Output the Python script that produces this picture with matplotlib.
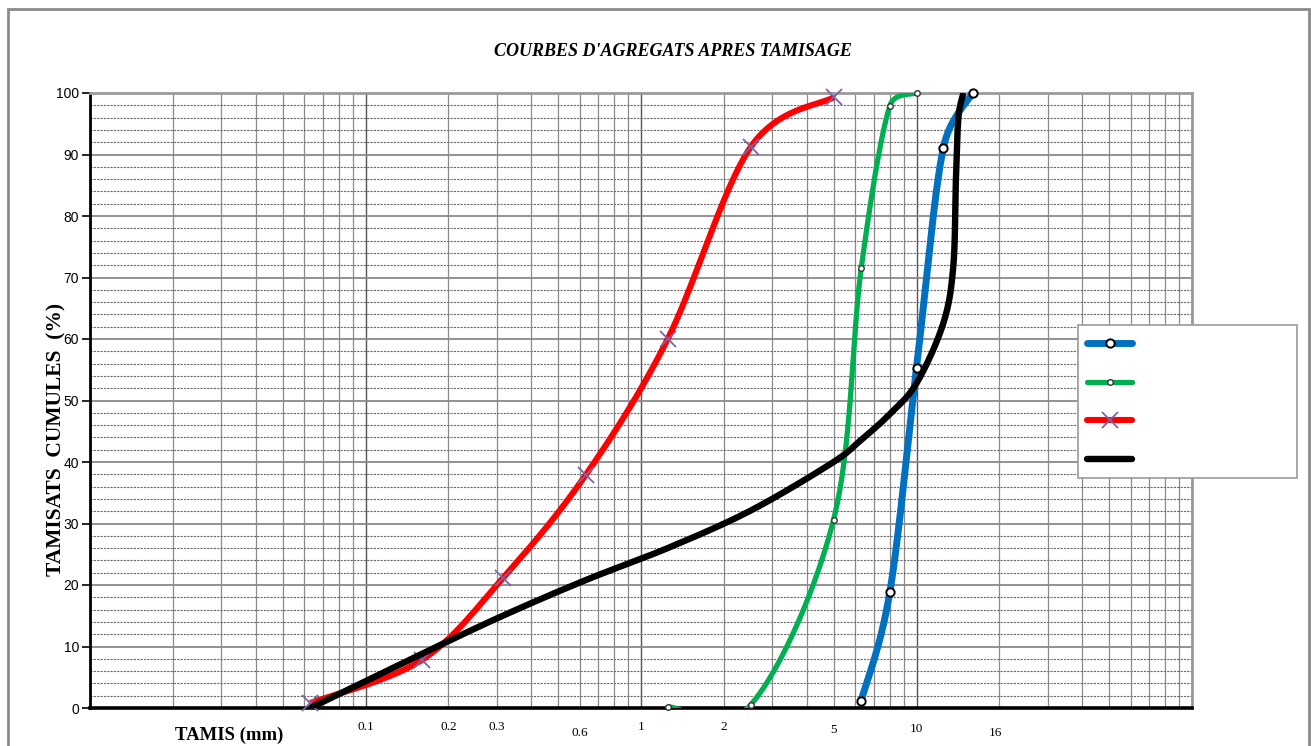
import numpy as np
import matplotlib
matplotlib.use("Agg")
from matplotlib import pyplot as plt
from matplotlib.lines import Line2D
from matplotlib.patches import Rectangle
from matplotlib.ticker import LogLocator, MultipleLocator, NullFormatter
import matplotlib.transforms as mtransforms

#Sieve openings (mm) and cumulative passing (%) for each aggregate
blue_x = [6.3, 8, 10, 12.5, 16]
blue_y = [1.2, 18.8, 55.3, 91.0, 100]

green_x = [1.25, 2.5, 5, 6.3, 8, 10]
green_y = [0.2, 0.5, 30.6, 71.5, 97.9, 100]

red_x = [0.063, 0.16, 0.315, 0.63, 1.25, 2.5, 5]
red_y = [0.8, 7.8, 21.1, 37.9, 60.0, 91.2, 99.3]

#Mix curve (no markers)
black_x = [0.063, 0.16, 0.315, 0.63, 1.25, 2.5, 5, 6.3, 8, 10, 12.5, 13.6, 13.9, 14.2, 14.8]
black_y = [0, 8.8, 15.0, 20.8, 26.0, 32.1, 40.0, 43.6, 47.8, 52.8, 62.5, 71.8, 85.9, 96.1, 100]

#Text labels written under the x axis
tamis_labels = ["0.1", "0.2", "0.3", "0.6", "1", "2", "5", "10", "16"]
tamis_values = [0.1, 0.2, 0.3, 0.6, 1, 2, 5, 10, 16]

W, H = 1316, 746
PX_DEC = 275.5  #pixels per decade
PX_UNIT = 6.15  #pixels per %


def smooth(xs, ys, n=40):
    #Excel-like smoothed line (bezier) computed in screen space
    u = (np.log10(xs) + 2) * PX_DEC
    v = np.array(ys) * PX_UNIT
    p = np.column_stack([u, v])
    pts = []
    for i in range(len(p) - 1):
        p0 = p[i - 1] if i > 0 else p[i]
        p1 = p[i]
        p2 = p[i + 1]
        p3 = p[i + 2] if i + 2 < len(p) else p[i + 1]
        seg_len = np.hypot(*(p2 - p1))
        t1 = (p2 - p0) / 6
        t2 = (p3 - p1) / 6
        #limit the handles so short segments do not overshoot
        for t in (t1, t2):
            l = np.hypot(*t)
            if l > 0.5 * seg_len:
                t *= 0.5 * seg_len / l
        c1 = p1 + t1
        c2 = p2 - t2
        s = np.linspace(0, 1, n)[:, None]
        seg = (1 - s) ** 3 * p1 + 3 * (1 - s) ** 2 * s * c1 + 3 * (1 - s) * s ** 2 * c2 + s ** 3 * p2
        pts.append(seg)
    pts = np.vstack(pts)
    return 10 ** (pts[:, 0] / PX_DEC - 2), pts[:, 1] / PX_UNIT


fig = plt.figure(figsize=(W / 100, H / 100), dpi=100)
ax = fig.add_axes([90 / W, 1 - 708 / H, 1102 / W, 615 / H])

ax.set_xscale("log")
ax.set_xlim(0.01, 100)
ax.set_ylim(0, 100)

#Grid
ax.xaxis.set_major_locator(LogLocator(base=10, numticks=10))
ax.xaxis.set_minor_locator(LogLocator(base=10, subs=np.arange(2, 10), numticks=20))
ax.xaxis.set_major_formatter(NullFormatter())
ax.xaxis.set_minor_formatter(NullFormatter())
ax.yaxis.set_major_locator(MultipleLocator(10))
ax.yaxis.set_minor_locator(MultipleLocator(2))
ax.grid(which="major", axis="x", color="#555555", lw=1.0)
ax.grid(which="minor", axis="x", color="#8a8a8a", lw=0.9)
ax.grid(which="major", axis="y", color="#8a8a8a", lw=1.3)
ax.grid(which="minor", axis="y", color="#6a6a6a", lw=0.8, ls=(0, (2, 1)))
ax.set_axisbelow(True)
ax.tick_params(axis="x", which="both", length=0)
ax.tick_params(axis="y", which="minor", length=0)
ax.tick_params(axis="y", which="major", length=6, width=1.2, direction="out", pad=2,
               labelsize=10, labelfontfamily="Liberation Sans")

for s in ["top", "right"]:
    ax.spines[s].set_color("#9a9a9a")
    ax.spines[s].set_linewidth(2)
ax.spines["left"].set_linewidth(2)
ax.spines["bottom"].set_linewidth(2.6)

series = [
    (blue_x, blue_y, "#0070C0", 5.0, dict(marker="o", ms=6, mfc="white", mec="black", mew=1.4)),
    (green_x, green_y, "#00B050", 3.8, dict(marker="o", ms=4, mfc="white", mec="#333333", mew=1.0)),
    (red_x, red_y, "#FF0000", 4.4, dict(marker="x", ms=11, mec="#7B64A8", mew=1.3)),
    (black_x, black_y, "black", 4.6, None),
]

z = 3
for xs, ys, col, lw, mk in series:
    sx, sy = smooth(xs, ys)
    ax.plot(sx, sy, color=col, lw=lw, solid_capstyle="butt", zorder=z)
    if mk is not None:
        ax.plot(xs, ys, ls="none", zorder=z + 0.5, clip_on=False, **mk)
    z += 1

#Tick texts under the axis
trans = mtransforms.blended_transform_factory(ax.transData, fig.transFigure)
dy = {"0.6": 6, "5": 3, "10": 2, "16": 6}
dx = {"16": 23}
for lab, val in zip(tamis_labels, tamis_values):
    off = mtransforms.offset_copy(trans, fig=fig, x=dx.get(lab, 0), y=-dy.get(lab, 0), units="dots")
    ax.text(val, 1 - 727 / H, lab, transform=off, ha="center", va="center",
            fontsize=9.5, family="Liberation Serif", clip_on=False)

fig.text(229 / W, 1 - 735 / H, "TAMIS (mm)", ha="center", va="center",
         fontsize=13.5, fontweight="bold", family="Liberation Serif")
fig.text(56 / W, 1 - 439 / H, "TAMISATS  CUMULES  (%)", ha="center", va="center", rotation=90,
         fontsize=15.5, fontweight="bold", family="Liberation Serif")
fig.text(673 / W, 1 - 52 / H, "COURBES D'AGREGATS APRES TAMISAGE", ha="center", va="center",
         fontsize=13, fontweight="bold", style="italic", family="Liberation Serif")

#Legend box (series names are blank in the source)
fig.add_artist(Rectangle((1078 / W, 1 - 478 / H), 219 / W, 153 / H, transform=fig.transFigure,
                         facecolor="white", edgecolor="#9a9a9a", lw=1.2, zorder=10))
for i, (xs, ys, col, lw, mk) in enumerate(series):
    yy = 1 - (343 + i * 38.7) / H
    fig.add_artist(Line2D([1087 / W, 1132 / W], [yy, yy], transform=fig.transFigure,
                          color=col, lw=lw, solid_capstyle="round", zorder=11))
    if mk is not None:
        fig.add_artist(Line2D([1109.5 / W], [yy], transform=fig.transFigure, ls="none",
                              zorder=12, **mk))

#Outer chart frame
fig.add_artist(Rectangle((8 / W, -0.02), 1301 / W, 1 - 9 / H + 0.02, transform=fig.transFigure,
                         facecolor="none", edgecolor="#8a8a8a", lw=2, zorder=0))

fig.savefig("out.png", dpi=100)
